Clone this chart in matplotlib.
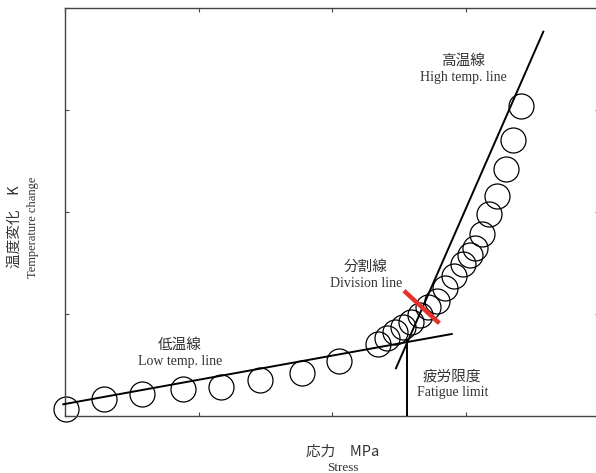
import numpy as np
import matplotlib
matplotlib.use('Agg')
import matplotlib.pyplot as plt

# 測定点（応力と温度変化、目盛りなしの相対値）
stress = [0.005, 0.294, 0.579, 0.886, 1.171, 1.463, 1.773, 2.055,
          2.347, 2.412, 2.472, 2.532, 2.592, 2.659, 2.721, 2.784,
          2.850, 2.914, 2.981, 3.034, 3.071, 3.124, 3.178, 3.234,
          3.303, 3.358, 3.412]
temp = [0.069, 0.167, 0.213, 0.262, 0.281, 0.353, 0.425, 0.539,
        0.703, 0.765, 0.824, 0.873, 0.922, 0.990, 1.069, 1.127,
        1.255, 1.373, 1.490, 1.578, 1.647, 1.784, 1.980, 2.157,
        2.426, 2.706, 3.039]

# 低温線・高温線・疲労限度・分割線
low_x = [-0.013, 2.897]
low_y = [0.115, 0.804]
high_x = [2.479, 3.583]
high_y = [0.468, 3.768]
fatigue_x = [2.564, 2.564]
fatigue_y = [0.0, 0.735]
div_x = [2.539, 2.804]
div_y = [1.228, 0.909]

jp = ['Noto Sans CJK JP', 'DejaVu Sans']
en = ['Liberation Serif', 'DejaVu Serif']
txt_color = '#333333'

fig = plt.figure(figsize=(5.96, 4.73), dpi=100)
ax = fig.add_axes([65 / 596, 57 / 473, 534 / 596, 408 / 473])

ax.plot(low_x, low_y, color='black', lw=1.4, clip_on=False, zorder=3)
ax.plot(high_x, high_y, color='black', lw=1.4, clip_on=False, zorder=3)
ax.plot(fatigue_x, fatigue_y, color='black', lw=1.4, zorder=3)
ax.plot(div_x, div_y, color='#e8302a', lw=3.2, solid_capstyle='butt', zorder=4)
ax.plot(stress, temp, linestyle='none', marker='o', markersize=18,
        markerfacecolor='none', markeredgecolor='black', markeredgewidth=0.9,
        clip_on=False, zorder=2)

ax.set_xlim(0, 4)
ax.set_ylim(0, 4)
ax.set_xticks([0, 1, 2, 3, 4])
ax.set_yticks([0, 1, 2, 3, 4])
ax.tick_params(direction='in', length=3, top=True, right=True,
               labelbottom=False, labelleft=False, color='#444444')
for s in ax.spines.values():
    s.set_color('#444444')
    s.set_linewidth(1.0)

# 注記
ax.text(2.984, 3.480, '高温線', family=jp, fontsize=10.5, color=txt_color, ha='center', va='center')
ax.text(2.984, 3.321, 'High temp. line', family=en, fontsize=10, color=txt_color, ha='center', va='center')
ax.text(2.252, 1.464, '分割線', family=jp, fontsize=10.5, color=txt_color, ha='center', va='center')
ax.text(2.252, 1.301, 'Division line', family=en, fontsize=10, color=txt_color, ha='center', va='center')
ax.text(2.901, 0.392, '疲労限度', family=jp, fontsize=10.5, color=txt_color, ha='center', va='center')
ax.text(2.901, 0.228, 'Fatigue limit', family=en, fontsize=10, color=txt_color, ha='center', va='center')
ax.text(0.861, 0.696, '低温線', family=jp, fontsize=10.5, color=txt_color, ha='center', va='center')
ax.text(0.861, 0.539, 'Low temp. line', family=en, fontsize=10, color=txt_color, ha='center', va='center')

# 軸ラベル
fig.text(343 / 596, 1 - 451.7 / 473, '応力　MPa', family=jp, fontsize=10.5, color=txt_color, ha='center', va='center')
fig.text(343 / 596, 1 - 467.5 / 473, 'Stress', family=en, fontsize=9.5, color=txt_color, ha='center', va='center')
fig.text(15 / 596, 1 - 227 / 473, '温度変化　K', family=jp, fontsize=10.5, color=txt_color,
         ha='center', va='center', rotation=90)
fig.text(33 / 596, 1 - 227 / 473, 'Temperature change', family=en, fontsize=9, color=txt_color,
         ha='center', va='center', rotation=90)

fig.savefig('out.png', dpi=100)
